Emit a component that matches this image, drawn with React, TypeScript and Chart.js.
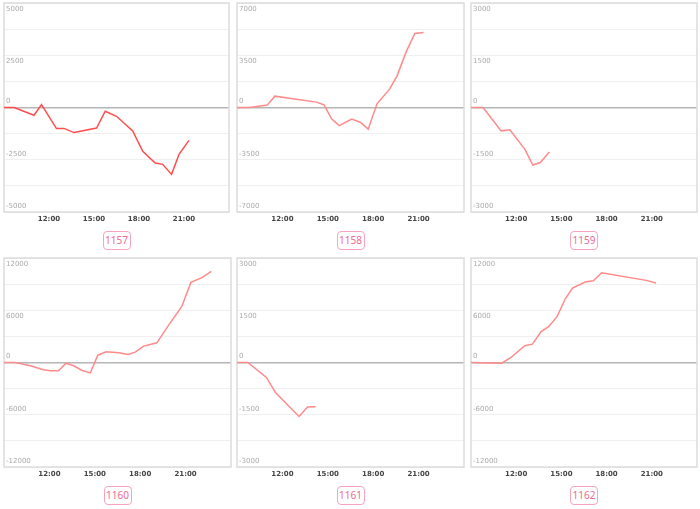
import React, { useEffect, useRef } from 'react';
import { Chart, registerables } from 'chart.js';

Chart.register(...registerables);

// ---- data (x = hour of day, y = value) ----
const ids = ['1157', '1158', '1159', '1160', '1161', '1162'];

const hours1157 = [9.0, 9.67, 11.0, 11.5, 12.5, 13.0, 13.67, 15.17, 15.75, 16.5, 17.58, 18.25, 19.08, 19.58, 20.17, 20.67, 21.33];
const values1157 = [0, 0, -370, 140, -1010, -1000, -1200, -980, -180, -420, -1120, -2100, -2660, -2720, -3200, -2240, -1570];

const hours1158 = [9.0, 9.83, 11.0, 11.5, 14.25, 14.75, 15.25, 15.75, 16.58, 17.17, 17.67, 18.25, 19.08, 19.58, 20.17, 20.75, 21.33];
const values1158 = [0, 0, 160, 760, 360, 180, -760, -1210, -780, -1000, -1450, 250, 1230, 2120, 3710, 4960, 5030];

const hours1159 = [9.0, 9.8, 11.0, 11.58, 12.58, 13.1, 13.6, 14.2];
const values1159 = [0, 0, -670, -640, -1200, -1650, -1580, -1280];

const hours1160 = [9.0, 9.75, 10.75, 11.6, 12.07, 12.6, 13.1, 13.6, 14.17, 14.7, 15.2, 15.75, 16.58, 17.2, 17.67, 18.23, 19.1, 19.88, 20.75, 21.35, 22.08, 22.7];
const values1160 = [0, 0, -380, -840, -960, -960, -80, -380, -920, -1190, 840, 1230, 1110, 920, 1190, 1880, 2260, 4290, 6440, 9200, 9740, 10470];

const hours1161 = [9.0, 9.72, 10.94, 11.54, 13.1, 13.66, 14.2];
const values1161 = [0, 0, -430, -860, -1550, -1280, -1270];

const hours1162 = [9.0, 11.04, 11.65, 12.57, 13.07, 13.66, 14.17, 14.72, 15.26, 15.74, 16.58, 17.12, 17.67, 20.63, 21.28];
const values1162 = [0, -80, 580, 1920, 2110, 3560, 4140, 5290, 7320, 8550, 9240, 9390, 10310, 9430, 9120];

const yMaxes = [5000, 7000, 3000, 12000, 3000, 12000];
const xTickHours = [12, 15, 18, 21];
const xMin = 9;
const xMax = 24;

const allHours = [hours1157, hours1158, hours1159, hours1160, hours1161, hours1162];
const allValues = [values1157, values1158, values1159, values1160, values1161, values1162];

// ---- layout / style ----
const rects = [
  { left: 4, top: 3, right: 229, bottom: 212, boxTop: 231 },
  { left: 237, top: 3, right: 464, bottom: 212, boxTop: 231 },
  { left: 471, top: 3, right: 697, bottom: 212, boxTop: 231 },
  { left: 4, top: 258, right: 231, bottom: 467, boxTop: 486 },
  { left: 237, top: 258, right: 464, bottom: 467, boxTop: 486 },
  { left: 471, top: 258, right: 697, bottom: 467, boxTop: 486 },
];
const lineColors = ['#ff4d4d', '#ff8a8a', '#ff8a8a', '#ff8a8a', '#ff8a8a', '#ff8a8a'];

const borderPlugin = {
  id: 'plotBorder',
  beforeDatasetsDraw(chart: any) {
    const { ctx, chartArea } = chart;
    ctx.save();
    ctx.strokeStyle = '#dcdcdc';
    ctx.lineWidth = 1.5;
    ctx.strokeRect(chartArea.left, chartArea.top, chartArea.right - chartArea.left, chartArea.bottom - chartArea.top);
    ctx.restore();
  },
};

function pad2(n: number) {
  return (n < 10 ? '0' : '') + n;
}

function Panel({ index }: { index: number }) {
  const ref = useRef<HTMLCanvasElement | null>(null);
  const r = rects[index];
  const w = r.right - r.left;
  const h = r.bottom - r.top;
  const cw = w + 4;
  const ch = h + 4 + 16;
  const yMax = yMaxes[index];

  useEffect(() => {
    if (!ref.current) return;
    const data = allHours[index].map((x, i) => ({ x, y: allValues[index][i] }));
    const chart = new Chart(ref.current, {
      type: 'line',
      data: {
        datasets: [
          {
            data,
            borderColor: lineColors[index],
            borderWidth: 1.5,
            pointRadius: 0,
            tension: 0,
            fill: false,
          },
        ],
      },
      options: {
        animation: false,
        responsive: false,
        maintainAspectRatio: false,
        layout: { padding: { left: 2, right: 2, top: 2, bottom: 0 } },
        plugins: { legend: { display: false }, tooltip: { enabled: false }, title: { display: false } },
        scales: {
          x: {
            type: 'linear',
            min: xMin,
            max: xMax,
            afterBuildTicks: (s: any) => {
              s.ticks = xTickHours.map((v) => ({ value: v }));
            },
            afterFit: (s: any) => {
              s.height = 18;
              s.paddingLeft = 0;
              s.paddingRight = 0;
            },
            grid: { display: false, drawTicks: false },
            border: { display: false },
            ticks: {
              autoSkip: false,
              maxRotation: 0,
              padding: 3,
              color: '#444',
              font: { family: 'DejaVu Sans', size: 7, weight: 'bold' },
              callback: (v: any) => pad2(Number(v)) + ':00',
            },
          },
          y: {
            type: 'linear',
            min: -yMax,
            max: yMax,
            afterFit: (s: any) => {
              s.width = 0;
              s.paddingTop = 0;
              s.paddingBottom = 0;
            },
            grid: {
              drawTicks: false,
              color: (c: any) => (c.tick && c.tick.value === 0 ? '#b5b5b5' : '#efefef'),
              lineWidth: (c: any) => (c.tick && c.tick.value === 0 ? 1.5 : 1),
            },
            border: { display: false },
            ticks: {
              stepSize: yMax / 4,
              autoSkip: false,
              mirror: true,
              padding: 2,
              color: '#aaa',
              font: { family: 'DejaVu Sans', size: 7, lineHeight: 12 / 7 },
              callback: (v: any) => {
                const n = Number(v);
                if (Math.abs(n % (yMax / 2)) > 1e-6) return '';
                if (n > 0) return ['', String(n)];
                return [String(n), ''];
              },
            },
          },
        },
      } as any,
      plugins: [borderPlugin],
    });
    return () => chart.destroy();
  }, [index]);

  return (
    <>
      <canvas
        ref={ref}
        width={cw}
        height={ch}
        style={{ position: 'absolute', left: r.left - 2, top: r.top - 2, width: cw, height: ch }}
      />
      <div
        style={{
          position: 'absolute',
          left: (r.left + r.right) / 2 - 14,
          top: r.boxTop,
          width: 28,
          height: 19,
          boxSizing: 'border-box',
          border: '1px solid #f6a5bc',
          borderRadius: 4,
          color: '#ec6a90',
          fontFamily: '"Noto Sans", sans-serif',
          fontSize: 10,
          lineHeight: '17px',
          textAlign: 'center',
        }}
      >
        {ids[index]}
      </div>
    </>
  );
}

export default function App() {
  return (
    <div style={{ position: 'fixed', left: 0, top: 0, width: 700, height: 509, background: '#fff', overflow: 'hidden' }}>
      {ids.map((_, i) => (
        <Panel key={i} index={i} />
      ))}
    </div>
  );
}
